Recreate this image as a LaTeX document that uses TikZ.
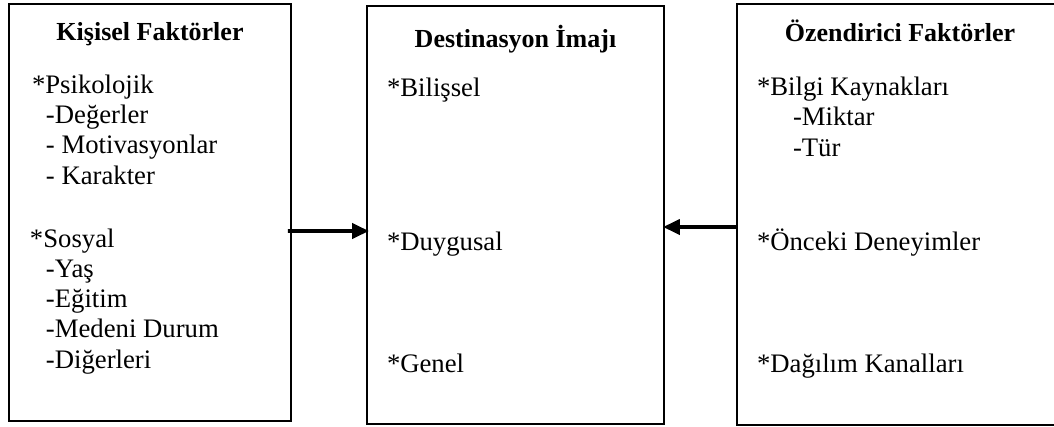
\documentclass[tikz,border=0pt]{standalone}
\usepackage{fontspec}
\setmainfont{Liberation Serif}
\usetikzlibrary{arrows.meta}

\begin{document}
\begin{tikzpicture}[x=0.02cm,y=-0.02cm,
  every node/.style={font=\fontsize{15.2}{17.1}\selectfont, inner sep=0pt, outer sep=0pt},
  panel/.style={draw, line width=1.1pt, rectangle},
  title/.style={font=\fontsize{14.8}{17.1}\selectfont\bfseries, anchor=base},
  item/.style={anchor=base west, align=left},
  link/.style={line width=2.2pt, -{Triangle[length=0.34cm,width=0.3cm]}}]

\useasboundingbox (0,0) rectangle (1054,426);

% three boxes
\node[panel, minimum width=5.64cm, minimum height=8.34cm] (kisisel) at (150,212.5) {};
\node[panel, minimum width=5.94cm, minimum height=8.36cm] (imaj) at (515.5,215) {};
\node[panel, minimum width=6.52cm, minimum height=8.42cm] (ozendirici) at (900,214.5) {};

% headings
\node[title] (kisiselT) at (150,40) {Kişisel Faktörler};
\node[title] (imajT) at (515.5,47) {Destinasyon İmajı};
\node[title] (ozendiriciT) at (900,41) {Özendirici Faktörler};

% left box (base = last line)
\node[item] (psiko) at (32,184) {*Psikolojik\\
  \hspace*{0.28cm}-Değerler\\
  \hspace*{0.28cm}- Motivasyonlar\\
  \hspace*{0.28cm}- Karakter};
\node[item] (sosyal) at (30,368) {*Sosyal\\
  \hspace*{0.32cm}-Yaş\\
  \hspace*{0.32cm}-Eğitim\\
  \hspace*{0.32cm}-Medeni Durum\\
  \hspace*{0.32cm}-Diğerleri};

% middle box
\node[item] (bilissel) at (387,96) {*Bilişsel};
\node[item] (duygusal) at (387,250) {*Duygusal};
\node[item] (genel) at (387,372) {*Genel};

% right box
\node[item] (bilgi) at (757,156) {*Bilgi Kaynakları\\
  \hspace*{0.72cm}-Miktar\\
  \hspace*{0.72cm}-Tür};
\node[item] (onceki) at (757,250) {*Önceki Deneyimler};
\node[item] (dagilim) at (757,372) {*Dağılım Kanalları};

% arrows into the image box
\draw[link] ([shift={(-3,18.5)}]kisisel.east) -- ([shift={(2,16)}]imaj.west);
\draw[link] ([shift={(0,12.5)}]ozendirici.west) -- ([shift={(-1,12)}]imaj.east);
\end{tikzpicture}
\end{document}
